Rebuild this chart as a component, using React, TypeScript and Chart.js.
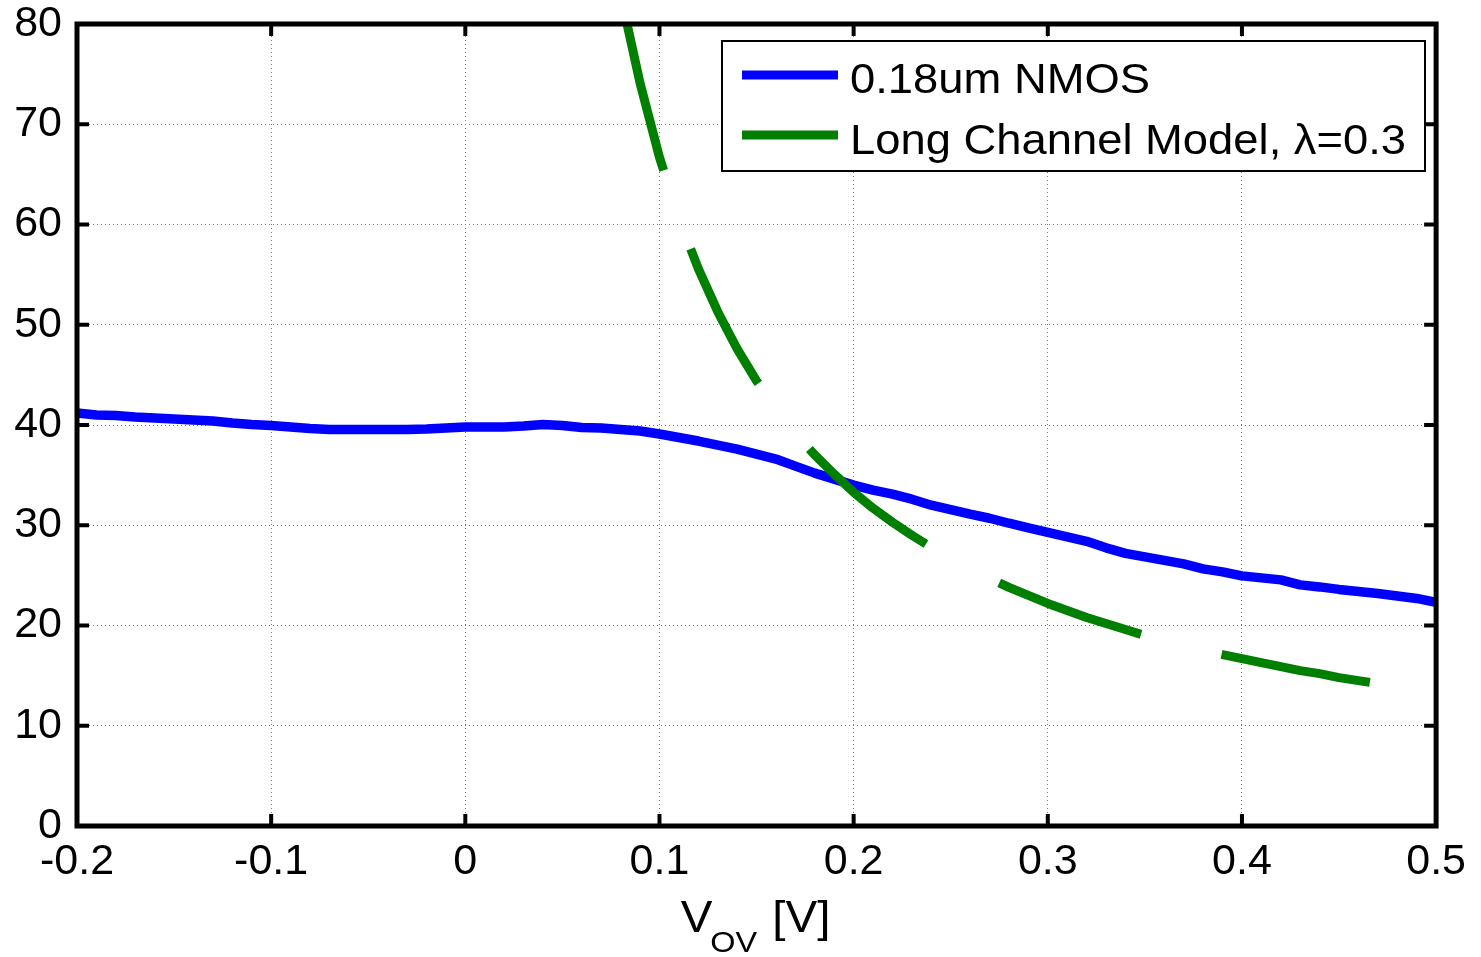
import React, { useEffect, useRef } from "react";
import { Chart, registerables } from "chart.js";

Chart.register(...registerables);

// ---- data ----
const blueX = [
  -0.2, -0.19, -0.18, -0.17, -0.16, -0.15, -0.14, -0.13, -0.12, -0.11, -0.1,
  -0.09, -0.08, -0.07, -0.06, -0.05, -0.04, -0.03, -0.02, -0.01, 0.0,
  0.01, 0.02, 0.03, 0.04, 0.05, 0.06, 0.07, 0.08, 0.09, 0.1,
  0.11, 0.12, 0.13, 0.14, 0.15, 0.16, 0.17, 0.18, 0.19, 0.2,
  0.21, 0.22, 0.23, 0.24, 0.25, 0.26, 0.27, 0.28, 0.29, 0.3,
  0.31, 0.32, 0.33, 0.34, 0.35, 0.36, 0.37, 0.38, 0.39, 0.4,
  0.41, 0.42, 0.43, 0.44, 0.45, 0.46, 0.47, 0.48, 0.49, 0.5,
];
const blueY = [
  41.2, 41.0, 40.95, 40.8, 40.7, 40.6, 40.5, 40.4, 40.2, 40.05, 39.95,
  39.8, 39.65, 39.55, 39.55, 39.55, 39.55, 39.55, 39.6, 39.7, 39.8,
  39.8, 39.8, 39.9, 40.05, 39.95, 39.75, 39.7, 39.55, 39.4, 39.1,
  38.75, 38.4, 38.0, 37.6, 37.1, 36.6, 35.9, 35.2, 34.6, 34.0,
  33.5, 33.1, 32.6, 32.0, 31.55, 31.1, 30.7, 30.2, 29.75, 29.3,
  28.85, 28.4, 27.75, 27.2, 26.85, 26.5, 26.15, 25.65, 25.35, 24.95,
  24.75, 24.55, 24.05, 23.85, 23.6, 23.4, 23.2, 22.95, 22.7, 22.3,
];

const greenX = [
  0.0833, 0.09, 0.1, 0.11, 0.12, 0.13, 0.14, 0.15, 0.16, 0.17, 0.18, 0.19,
  0.2, 0.21, 0.22, 0.23, 0.24, 0.25, 0.26, 0.27, 0.28, 0.29, 0.3, 0.31,
  0.32, 0.33, 0.34, 0.35, 0.36, 0.37, 0.38, 0.39, 0.4, 0.41, 0.42, 0.43,
  0.44, 0.45, 0.46, 0.47, 0.48, 0.49, 0.5,
];
const greenY = [
  80.0, 74.1, 66.7, 60.6, 55.6, 51.3, 47.6, 44.4, 41.7, 39.2, 37.0, 35.1,
  33.3, 31.7, 30.3, 29.0, 27.8, 26.7, 25.6, 24.7, 23.8, 23.0, 22.2, 21.5,
  20.8, 20.2, 19.6, 19.0, 18.5, 18.0, 17.5, 17.1, 16.7, 16.3, 15.9, 15.5,
  15.2, 14.8, 14.5, 14.2, 13.9, 13.6, 13.3,
];

const seriesNames = ["0.18um NMOS", "Long Channel Model, \u03bb=0.3"];
const seriesColors = ["#0000ff", "#007f00"];

const xTicks = [-0.2, -0.1, 0, 0.1, 0.2, 0.3, 0.4, 0.5];
const xTickLabels = ["-0.2", "-0.1", "0", "0.1", "0.2", "0.3", "0.4", "0.5"];
const yTicks = [0, 10, 20, 30, 40, 50, 60, 70, 80];
const yTickLabels = ["0", "10", "20", "30", "40", "50", "60", "70", "80"];

const xTitleMain = "V";
const xTitleSub = "OV";
const xTitleUnit = " [V]";

const FONT = '"Liberation Sans", Arial, Helvetica, sans-serif';

const framePlugin = {
  id: "matlabFrame",
  afterDatasetsDraw(chart: any) {
    const { ctx, chartArea } = chart;
    const { left, right, top, bottom } = chartArea;
    const xs = chart.scales.x;
    const ys = chart.scales.y;
    ctx.save();
    // frame
    ctx.strokeStyle = "#000";
    ctx.lineWidth = 5;
    ctx.strokeRect(left, top, right - left, bottom - top);
    // inward ticks
    ctx.lineWidth = 4;
    ctx.beginPath();
    const tl = 12;
    xTicks.forEach((v) => {
      const p = xs.getPixelForValue(v);
      if (Math.abs(p - left) < 2 || Math.abs(p - right) < 2) return;
      ctx.moveTo(p, bottom);
      ctx.lineTo(p, bottom - tl);
      ctx.moveTo(p, top);
      ctx.lineTo(p, top + tl);
    });
    yTicks.forEach((v) => {
      const p = ys.getPixelForValue(v);
      if (Math.abs(p - top) < 2 || Math.abs(p - bottom) < 2) return;
      ctx.moveTo(left, p);
      ctx.lineTo(left + tl, p);
      ctx.moveTo(right, p);
      ctx.lineTo(right - tl, p);
    });
    ctx.stroke();

    const sx = 1.08;
    // x-axis title with subscript
    ctx.fillStyle = "#000";
    ctx.textBaseline = "alphabetic";
    ctx.textAlign = "left";
    const bigFont = `44px ${FONT}`;
    const subFont = `30px ${FONT}`;
    ctx.font = bigFont;
    const w1 = ctx.measureText(xTitleMain).width * sx;
    const w3 = ctx.measureText(xTitleUnit).width * sx;
    ctx.font = subFont;
    const w2 = ctx.measureText(xTitleSub).width * sx;
    const total = w1 + w2 + w3;
    let cx = (left + right) / 2 - 1 - total / 2;
    const base = 932;
    const drawScaled = (txt: string, font: string, x: number, y: number) => {
      ctx.save();
      ctx.font = font;
      ctx.translate(x, y);
      ctx.scale(sx, 1);
      ctx.fillText(txt, 0, 0);
      ctx.restore();
    };
    drawScaled(xTitleMain, bigFont, cx, base);
    cx += w1 - 2;
    drawScaled(xTitleSub, subFont, cx, base + 20);
    cx += w2 + 2;
    drawScaled(xTitleUnit, bigFont, cx, base);

    // legend box
    const lx = 722, ly = 41, lw = 703, lh = 130;
    ctx.fillStyle = "#fff";
    ctx.fillRect(lx, ly, lw, lh);
    ctx.strokeStyle = "#000";
    ctx.lineWidth = 2;
    ctx.strokeRect(lx, ly, lw, lh);
    const rows = [
      { y: 75, base: 93 },
      { y: 135, base: 154 },
    ];
    rows.forEach((r, i) => {
      ctx.strokeStyle = seriesColors[i];
      ctx.lineWidth = 9;
      ctx.lineCap = "butt";
      ctx.beginPath();
      ctx.moveTo(742, r.y);
      ctx.lineTo(838, r.y);
      ctx.stroke();
      ctx.fillStyle = "#000";
      drawScaled(seriesNames[i], `42px ${FONT}`, 850, r.base);
    });
    ctx.restore();
  },
};

export default function App() {
  const ref = useRef<HTMLCanvasElement | null>(null);
  useEffect(() => {
    if (!ref.current) return;
    const chart = new Chart(ref.current, {
      type: "line",
      data: {
        datasets: [
          {
            label: seriesNames[0],
            data: blueX.map((x, i) => ({ x, y: blueY[i] })),
            borderColor: seriesColors[0],
            borderWidth: 9.5,
            pointRadius: 0,
            tension: 0,
            borderJoinStyle: "round",
            borderCapStyle: "butt",
            fill: false,
            order: 2,
            clip: 0,
          },
          {
            label: seriesNames[1],
            data: greenX.map((x, i) => ({ x, y: greenY[i] })),
            borderColor: seriesColors[1],
            borderWidth: 9,
            borderDash: [151, 83],
            pointRadius: 0,
            tension: 0,
            borderJoinStyle: "round",
            borderCapStyle: "butt",
            fill: false,
            order: 1,
            clip: 0,
          },
        ],
      },
      options: {
        animation: false,
        responsive: false,
        maintainAspectRatio: false,
        devicePixelRatio: 1,
        layout: { padding: { left: 0, top: 24, right: 44, bottom: 0 } },
        plugins: {
          legend: { display: false },
          tooltip: { enabled: false },
          title: { display: false },
        },
        scales: {
          x: {
            type: "linear",
            min: -0.2,
            max: 0.5,
            afterBuildTicks: (scale: any) => {
              scale.ticks = xTicks.map((v) => ({ value: v }));
            },
            afterFit: (scale: any) => {
              scale.height = 131;
            },
            ticks: {
              autoSkip: false,
              maxRotation: 0,
              padding: 15,
              color: "#000",
              font: { family: FONT, size: 43, lineHeight: 1 },
              callback: (_v: any, i: number) => xTickLabels[i],
            },
            grid: {
              color: "#7a7a7a",
              lineWidth: 1,
              drawTicks: false,
            },
            border: { display: false, dash: [1, 3] },
          },
          y: {
            type: "linear",
            min: 0,
            max: 80,
            afterBuildTicks: (scale: any) => {
              scale.ticks = yTicks.map((v) => ({ value: v }));
            },
            afterFit: (scale: any) => {
              scale.width = 77;
              scale.paddingTop = 0;
              scale.paddingBottom = 0;
            },
            ticks: {
              autoSkip: false,
              padding: 15,
              color: "#000",
              font: { family: FONT, size: 43, lineHeight: 1 },
              callback: (_v: any, i: number) => yTickLabels[i],
            },
            grid: {
              color: "#7a7a7a",
              lineWidth: 1,
              drawTicks: false,
            },
            border: { display: false, dash: [1, 3] },
          },
        },
      },
      plugins: [framePlugin],
    } as any);
    return () => chart.destroy();
  }, []);

  return (
    <div style={{ position: "absolute", left: 0, top: 0, width: 1481, height: 957, background: "#fff" }}>
      <canvas ref={ref} width={1481} height={957} style={{ display: "block", width: 1481, height: 957 }} />
    </div>
  );
}
